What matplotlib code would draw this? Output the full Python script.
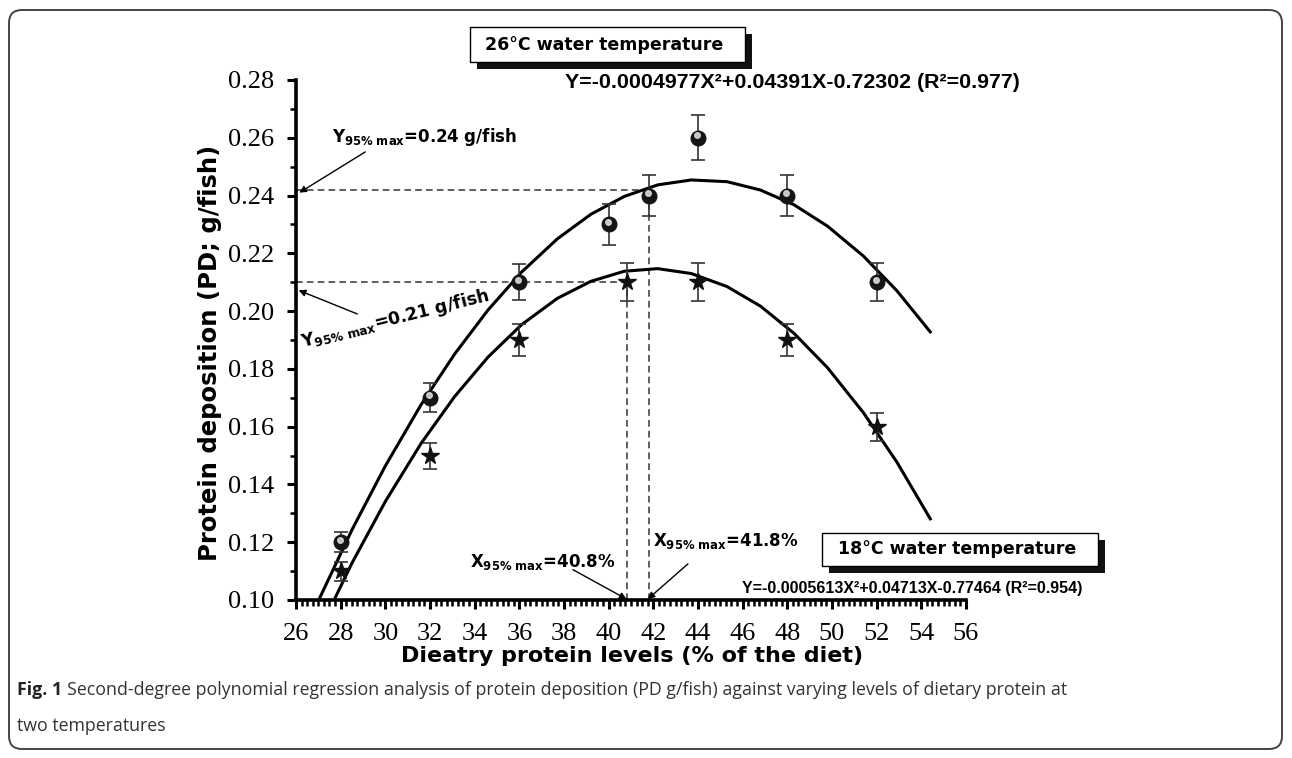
import numpy as np
import matplotlib
matplotlib.use("Agg")
import matplotlib.pyplot as plt
from matplotlib.patches import Rectangle, FancyBboxPatch
from matplotlib.ticker import MultipleLocator, FormatStrFormatter
from matplotlib.transforms import offset_copy, IdentityTransform

# 26 C water temperature (balls)
x_26 = [28, 32, 36, 40, 41.8, 44, 48, 52]
pd_26 = [0.12, 0.17, 0.21, 0.23, 0.24, 0.26, 0.24, 0.21]
err_26 = [0.0035, 0.005, 0.0063, 0.007, 0.007, 0.0078, 0.007, 0.0065]

# 18 C water temperature (stars)
x_18 = [28, 32, 36, 40.8, 44, 48, 52]
pd_18 = [0.11, 0.15, 0.19, 0.21, 0.21, 0.19, 0.16]
err_18 = [0.0033, 0.0045, 0.0056, 0.0065, 0.0065, 0.0057, 0.0048]

# fitted curves, polyline vertices
fit_x = [27.0, 28.5, 30.0, 31.6, 33.1, 34.6, 36.1, 37.7, 39.2, 40.7,
         42.2, 43.7, 45.3, 46.8, 48.3, 49.8, 51.4, 52.9, 54.4]
fit_26 = [0.0997, 0.1242, 0.1464, 0.1676, 0.1851, 0.2004, 0.2135, 0.2250,
          0.2335, 0.2397, 0.2437, 0.2454, 0.2448, 0.2419, 0.2368, 0.2294,
          0.2191, 0.2071, 0.1928]
fit_18 = [0.0887, 0.1127, 0.1341, 0.1542, 0.1704, 0.1841, 0.1953, 0.2044,
          0.2103, 0.2138, 0.2147, 0.2130, 0.2085, 0.2017, 0.1923, 0.1804,
          0.1649, 0.1478, 0.1281]

# 95% max reference lines
ymax_26, xmax_26 = 0.242, 41.8
ymax_18, xmax_18 = 0.21, 40.8

eq_26 = "Y=-0.0004977X\u00b2+0.04391X-0.72302 (R\u00b2=0.977)"
eq_18 = "Y=-0.0005613X\u00b2+0.04713X-0.77464 (R\u00b2=0.954)"

W, H = 1292, 758
fig = plt.figure(figsize=(W / 100, H / 100), dpi=100)
fig.patch.set_facecolor("white")


def fx(px):
    return px / W


def fy(py):
    return 1 - py / H


ax = fig.add_axes([fx(296), fy(600), fx(966) - fx(296), fy(80) - fy(600)])
ax.set_xlim(26, 56)
ax.set_ylim(0.10, 0.28)
for s in ["top", "right"]:
    ax.spines[s].set_visible(False)
for s in ["left", "bottom"]:
    ax.spines[s].set_linewidth(2.6)
ax.xaxis.set_major_locator(MultipleLocator(2))
ax.xaxis.set_minor_locator(MultipleLocator(0.25))
ax.yaxis.set_major_locator(MultipleLocator(0.02))
ax.yaxis.set_minor_locator(MultipleLocator(0.01))
ax.yaxis.set_major_formatter(FormatStrFormatter("%.2f"))
ax.tick_params(which="major", length=6.5, width=2.2, direction="out")
ax.tick_params(which="minor", length=4, width=1.8, direction="out")
ax.tick_params(axis="x", which="major", pad=10)
ax.tick_params(axis="y", which="major", pad=9)
for lab in ax.get_xticklabels() + ax.get_yticklabels():
    lab.set_fontfamily("Liberation Serif")
    lab.set_fontsize(19)

# dashed 95% lines
dash = dict(color="#444444", lw=1.2, ls=(0, (4, 2.5)), zorder=1)
ax.plot([26, xmax_26], [ymax_26, ymax_26], **dash)
ax.plot([xmax_26, xmax_26], [0.10, ymax_26], **dash)
ax.plot([26, xmax_18], [ymax_18, ymax_18], **dash)
ax.plot([xmax_18, xmax_18], [0.10, ymax_18], **dash)

# regression curves
ax.plot(fit_x, fit_26, color="black", lw=2.2, zorder=2)
ax.plot(fit_x, fit_18, color="black", lw=2.2, zorder=2)

# error bars and markers
ax.errorbar(x_26, pd_26, yerr=err_26, fmt="none", ecolor="#333333",
            elinewidth=1.2, capsize=5, capthick=1.2, zorder=3)
ax.errorbar(x_18, pd_18, yerr=err_18, fmt="none", ecolor="#333333",
            elinewidth=1.2, capsize=5, capthick=1.2, zorder=3)
ax.plot(x_26, pd_26, "o", ms=10.5, color="#151515", zorder=4)
hl = offset_copy(ax.transData, fig=fig, x=-1.0, y=2.5, units="dots")
ax.plot(x_26, pd_26, "o", ms=4, color="#d8d8d8", alpha=0.9, transform=hl, zorder=5)
ax.plot(x_18, pd_18, "*", ms=13, color="#111111", zorder=4)

# arrows
arr = dict(arrowstyle="-|>", color="black", lw=1.0, mutation_scale=10,
           shrinkA=0, shrinkB=0)
ax.annotate("", xy=(26.15, 0.2410), xytext=(29.1, 0.2551), arrowprops=arr,
            annotation_clip=False)
ax.annotate("", xy=(26.12, 0.2072), xytext=(28.75, 0.1990), arrowprops=arr,
            annotation_clip=False)
ax.annotate("", xy=(40.8, 0.1003), xytext=(38.4, 0.1105), arrowprops=arr,
            annotation_clip=False)
ax.annotate("", xy=(41.75, 0.1003), xytext=(43.55, 0.1125), arrowprops=arr,
            annotation_clip=False)

bold = dict(family="DejaVu Sans", weight="bold")
fig.text(fx(332), fy(142), r"$\mathbf{Y_{95\%\ max}}$=0.24 g/fish",
         fontsize=12, ha="left", va="baseline", **bold)
fig.text(fx(303), fy(347), r"$\mathbf{Y_{95\%\ max}}$=0.21 g/fish",
         fontsize=12.5, ha="left", va="baseline", rotation=14,
         rotation_mode="anchor", **bold)
fig.text(fx(470), fy(567), r"$\mathbf{X_{95\%\ max}}$=40.8%",
         fontsize=12, ha="left", va="baseline", **bold)
fig.text(fx(653), fy(546), r"$\mathbf{X_{95\%\ max}}$=41.8%",
         fontsize=12, ha="left", va="baseline", **bold)

# equations
fig.text(fx(565), fy(88), eq_26, fontsize=15.4, family="Liberation Sans",
         weight="bold", ha="left", va="baseline")
fig.text(fx(742), fy(593), eq_18, fontsize=11.5, family="Liberation Sans",
         weight="bold", ha="left", va="baseline")

# shadowed label boxes
ident = IdentityTransform()


def shadow_box(x0, y0, x1, y1, label):
    fig.patches.append(Rectangle((x0 + 7, H - y1 - 7), x1 - x0, y1 - y0,
                                 facecolor="#111111", edgecolor="none",
                                 transform=ident, figure=fig))
    fig.patches.append(Rectangle((x0, H - y1), x1 - x0, y1 - y0,
                                 facecolor="white", edgecolor="black", lw=1.0,
                                 transform=ident, figure=fig))
    fig.text(fx((x0 + x1) / 2 - 3), fy((y0 + y1) / 2), label, fontsize=12.5,
             ha="center", va="center", **bold)


shadow_box(470, 27, 745, 62, "26\u00b0C water temperature")
shadow_box(822, 533, 1098, 566, "18\u00b0C water temperature")

# axis titles
fig.text(fx(210), fy(353), "Protein deposition (PD; g/fish)", rotation=90,
         fontsize=17.5, ha="center", va="center", **bold)
fig.text(fx(632), fy(656), "Dieatry protein levels (% of the diet)",
         fontsize=16, ha="center", va="center", **bold)

# outer rounded frame
fig.patches.append(FancyBboxPatch((9, 9), W - 19, H - 19,
                                  boxstyle="round,pad=0,rounding_size=13",
                                  facecolor="none", edgecolor="#444444", lw=1.4,
                                  transform=ident, figure=fig))

# caption
cap_font = "Open Sans"
t1 = fig.text(fx(17), fy(690), "Fig. 1", fontsize=12.8, family=cap_font,
              weight="bold", ha="left", va="center", color="#222222")
fig.canvas.draw()
bb = t1.get_window_extent()
fig.text((bb.x1 + 5) / W, fy(690),
         "Second-degree polynomial regression analysis of protein deposition "
         "(PD g/fish) against varying levels of dietary protein at",
         fontsize=12.8, family=cap_font, ha="left", va="center", color="#333333")
fig.text(fx(17), fy(726), "two temperatures", fontsize=12.8, family=cap_font,
         ha="left", va="center", color="#333333")

fig.savefig("out.png", dpi=100)
